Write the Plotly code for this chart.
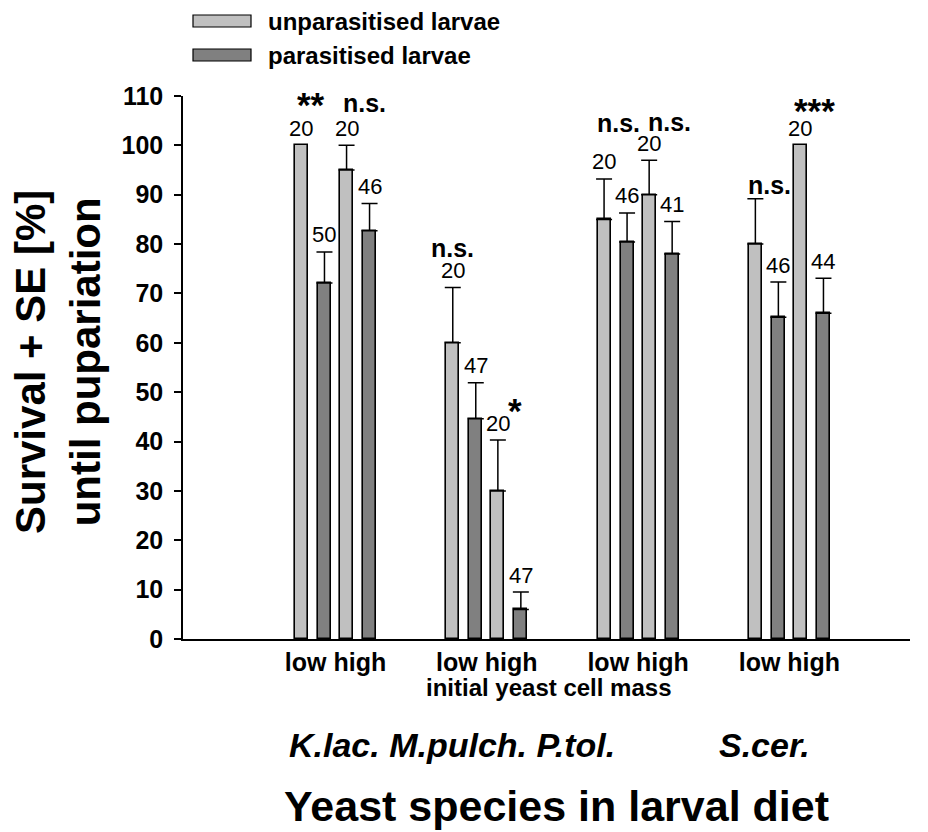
import plotly.graph_objects as go

# ---------------- data ----------------
species = ["K.lac.", "M.pulch.", "P.tol.", "S.cer."]
mass = ["low", "high"]
# order: K-low, K-high, M-low, M-high, P-low, P-high, S-low, S-high
unpar_mean = [100, 95, 60, 30, 85, 90, 80, 100]
unpar_se = [None, 5.0, 11.2, 10.3, 8.2, 7.0, 9.2, None]
par_mean = [72.1, 82.7, 44.6, 6.0, 80.4, 78.0, 65.2, 66.0]
par_se = [6.3, 5.5, 7.3, 3.5, 5.9, 6.6, 7.1, 7.1]
n_unpar = [20, 20, 20, 20, 20, 20, None, 20]
n_par = [50, 46, 47, 47, 46, 41, 46, 44]
sig = ["**", "n.s.", "n.s.", "*", "n.s.", "n.s.", "n.s.", "***"]
y_ticks = list(range(0, 111, 10))

# ---------------- layout helpers ----------------
BODY = 8  # default page margin around the plot div
W, H = 928 - BODY, 832 - BODY
ML, MT = 183 - BODY, 96 - BODY
MR, MB = 18, 193
PW, PH = W - ML - MR, H - MT - MB
FONT = "Liberation Sans, Arial, sans-serif"
LIGHT, DARK = "#c0c0c0", "#808080"
OFF = [-0.225, -0.073, 0.073, 0.225]
BW = 0.085


def px(x):  # page pixel -> paper
    return (x - BODY - ML) / PW


def py(y):
    return (H - MB - (y - BODY)) / PH


ux, pxs = [], []
for i, _ in enumerate(species):
    for j, _ in enumerate(mass):
        ux.append(i + OFF[2 * j])
        pxs.append(i + OFF[2 * j + 1])

fig = go.Figure()
fig.add_trace(go.Bar(x=ux, y=unpar_mean, width=BW, marker=dict(color=LIGHT, line=dict(color="black", width=1.6)),
                     name="unparasitised larvae", showlegend=False))
fig.add_trace(go.Bar(x=pxs, y=par_mean, width=BW, marker=dict(color=DARK, line=dict(color="black", width=1.6)),
                     name="parasitised larvae", showlegend=False))

# error bars (upper only) for points that have an SE
ex, ey, ee = [], [], []
for xs, ms, ss in ((ux, unpar_mean, unpar_se), (pxs, par_mean, par_se)):
    for x, m, s in zip(xs, ms, ss):
        if s is not None:
            ex.append(x); ey.append(m); ee.append(s)
fig.add_trace(go.Scatter(x=ex, y=ey, mode="markers", marker=dict(opacity=0, size=1), showlegend=False,
                         hoverinfo="skip",
                         error_y=dict(type="data", symmetric=False, array=ee, arrayminus=[0] * len(ee),
                                      color="black", thickness=1.5, width=8)))

ann = []
# n labels
for xs, ms, ss, ns in ((ux, unpar_mean, unpar_se, n_unpar), (pxs, par_mean, par_se, n_par)):
    for x, m, s, n in zip(xs, ms, ss, ns):
        if n is None:
            continue
        top = m + (s or 0)
        ann.append(dict(x=x, y=top, xref="x", yref="y", text=str(n), showarrow=False,
                        xanchor="center", yanchor="middle", yshift=17,
                        font=dict(family=FONT, size=22, color="black")))

# significance labels: offsets (px) relative to unparasitised bar whisker top
SIG_SHIFT = [(10, 41), (18, 42), (0, 40), (17, 30), (14, 56), (20, 38), (14, 14), (14, 35)]
for k, s in enumerate(sig):
    top = unpar_mean[k] + (unpar_se[k] or 0)
    star = s.startswith("*")
    ann.append(dict(x=ux[k], y=top, xref="x", yref="y", text="<b>%s</b>" % s, showarrow=False,
                    xshift=SIG_SHIFT[k][0], yshift=SIG_SHIFT[k][1], xanchor="center", yanchor="middle",
                    font=dict(family=FONT, size=35 if star else 25, color="black")))


def label(x, y, text, size, angle=0, anchor="center"):
    ann.append(dict(x=px(x), y=py(y), xref="paper", yref="paper", text=text, textangle=angle,
                    showarrow=False, xanchor=anchor, yanchor="middle",
                    font=dict(family=FONT, size=size, color="black")))


# axis titles
label(58, 362, "<b>Survival + SE [%]<br>until pupariation</b>", 42, angle=-90)
label(548, 687, "<b>initial yeast cell mass</b>", 24)
# first three species names are set on one line, the last one stands apart
label(287, 745, "<b><i>%s</i></b>" % " ".join(species[:3]), 34, anchor="left")
label(764, 745, "<b><i>%s</i></b>" % species[3], 34)
label(556, 806, "<b>Yeast species in larval diet</b>", 43)

# legend (drawn manually)
shapes = []
for k, (lab, col) in enumerate((("unparasitised larvae", LIGHT), ("parasitised larvae", DARK))):
    y0 = 15 + 34 * k
    shapes.append(dict(type="rect", xref="paper", yref="paper", x0=px(193), x1=px(251), y0=py(y0 + 12), y1=py(y0),
                       fillcolor=col, line=dict(color="black", width=1.2)))
    label(266, y0 + 6, "<b>%s</b>" % lab, 24, anchor="left")

fig.update_layout(
    width=W, height=H, margin=dict(l=ML, r=MR, t=MT, b=MB, pad=0),
    paper_bgcolor="white", plot_bgcolor="white", bargap=0, showlegend=False,
    annotations=ann, shapes=shapes,
    font=dict(family=FONT, color="black"),
)
fig.update_xaxes(range=[-1.008, 3.797], showgrid=False, zeroline=False, showline=True, linecolor="black",
                 linewidth=1.5, ticks="", tickmode="array", tickvals=list(range(len(species))),
                 ticktext=["<b>low high</b>"] * len(species), tickfont=dict(family=FONT, size=25, color="black"))
fig.update_yaxes(range=[0, 110], showgrid=False, zeroline=False, showline=True, linecolor="black", linewidth=1.5,
                 ticks="outside", ticklen=7, tickwidth=1.5, tickcolor="black", tickmode="array", tickvals=y_ticks,
                 ticktext=["<b>%d</b>" % v for v in y_ticks], tickfont=dict(family=FONT, size=25, color="black"),
                 ticklabelstandoff=6)

fig.write_html("out.html")
